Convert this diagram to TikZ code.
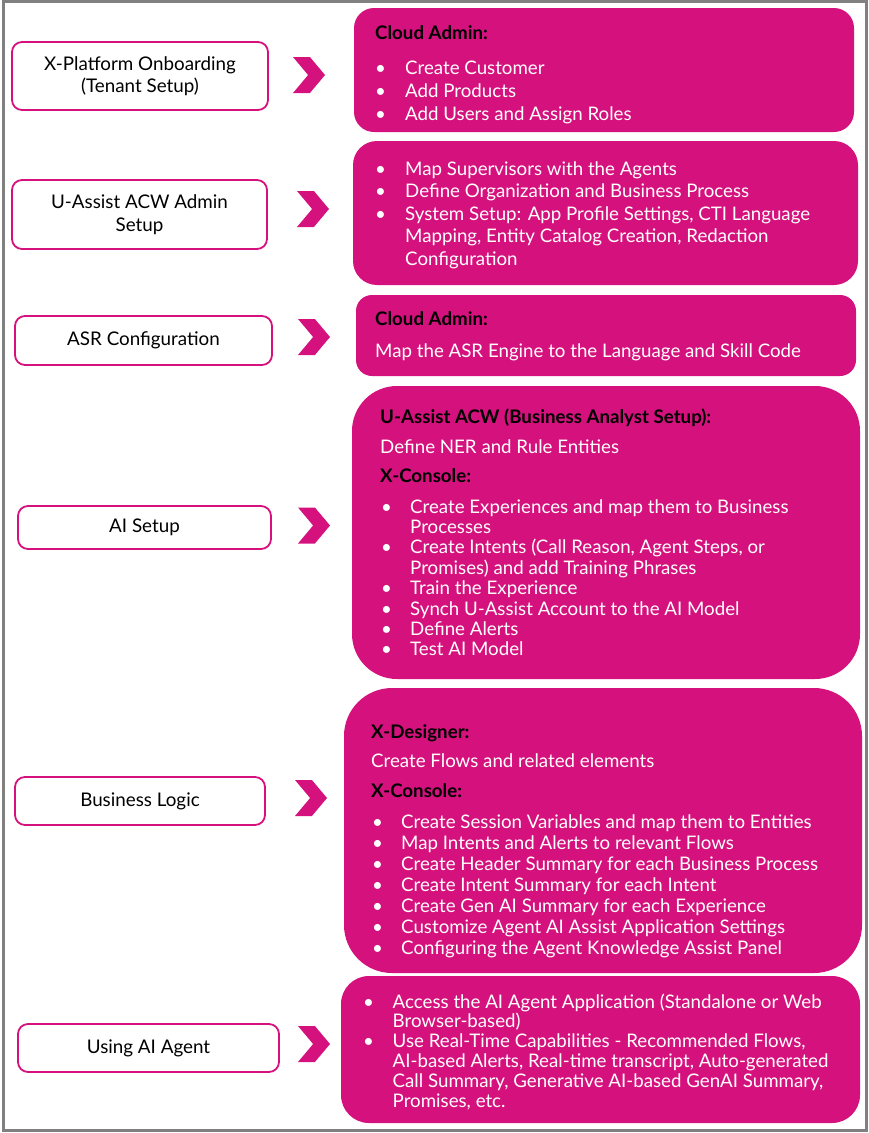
\documentclass[tikz,border=0pt]{standalone}
\usepackage{fontspec}
\setmainfont{Lato}
\usetikzlibrary{shapes.symbols}
\definecolor{mag}{RGB}{213,17,125}
\definecolor{framegray}{RGB}{128,128,128}
\newcommand{\blt}[2][29pt]{\makebox[#1][l]{\textbullet}#2}
\newcommand{\cnt}[2][29pt]{\hspace*{#1}#2}
\newcommand{\blk}[1]{\parbox[t]{520pt}{\raggedright #1}}
\tikzset{
  leftbox/.style={draw=mag, line width=1.8pt, fill=white, rounded corners=10pt,
    align=center, font=\fontsize{18.8}{22.5}\selectfont, text=black, inner sep=0pt},
  rightbox/.style={fill=mag, draw=none, inner sep=0pt},
  chev/.style={fill=mag, draw=none, signal, signal to=east, signal from=west,
    signal pointer angle=100, minimum width=32pt, minimum height=36pt, inner sep=0pt},
  head/.style={anchor=base west, inner sep=0pt, font=\fontsize{18.7}{23}\selectfont\bfseries, text=black},
  body/.style={anchor=base west, inner sep=0pt, text=white},
}
\begin{document}
\begin{tikzpicture}[x=1pt,y=-1pt]
\useasboundingbox (0,0) rectangle (869,1133);
\draw[framegray, line width=3pt] (3.5,1.5) rectangle (866.5,1130);

% left boxes
\node[leftbox, minimum width=256pt, minimum height=68pt] (L1) at (140,76) {X-Platform Onboarding\\(Tenant Setup)};
\node[leftbox, minimum width=255pt, minimum height=69pt] (L2) at (139.5,214.5) {U-Assist ACW Admin\\Setup};
\node[leftbox, minimum width=257pt, minimum height=49pt] (L3) at (143.5,340.5) {ASR Configuration};
\node[leftbox, minimum width=253pt, minimum height=43pt] (L4) at (144.5,527.5) {AI Setup};
\node[leftbox, minimum width=250pt, minimum height=48pt] (L5) at (140,801) {Business Logic};
\node[leftbox, minimum width=261pt, minimum height=48pt] (L6) at (148.5,1048) {Using AI Agent};

% chevrons
\node[chev] (C1) at (309,75) {};
\node[chev] (C2) at (313,209) {};
\node[chev] (C3) at (314,337) {};
\node[chev] (C4) at (314,525.5) {};
\node[chev] (C5) at (311,798) {};
\node[chev] (C6) at (314,1044) {};

% right boxes
\node[rightbox, rounded corners=20pt, minimum width=500pt, minimum height=124pt] (R1) at (604,70) {};
\node[rightbox, rounded corners=24pt, minimum width=505pt, minimum height=144pt] (R2) at (605.5,213) {};
\node[rightbox, rounded corners=16pt, minimum width=500pt, minimum height=81pt] (R3) at (606,335.5) {};
\node[rightbox, rounded corners=45pt, minimum width=508pt, minimum height=293pt] (R4) at (606,532.5) {};
\node[rightbox, rounded corners=48pt, minimum width=518pt, minimum height=285pt] (R5) at (603,830.5) {};
\node[rightbox, rounded corners=28pt, minimum width=519pt, minimum height=147pt] (R6) at (600.5,1049.5) {};

% box 1
\node[head] (h1) at (375,39) {Cloud Admin:};
\node[body, font=\fontsize{18.7}{23}\selectfont] (b1) at (375,74) {\blk{%
\blt[30pt]{Create Customer}\\
\blt[30pt]{Add Products}\\
\blt[30pt]{Add Users and Assign Roles}}};

% box 2
\node[body, font=\fontsize{18.7}{22.6}\selectfont] (b2) at (375,175) {\blk{%
\blt[30pt]{Map Supervisors with the Agents}\\
\blt[30pt]{Define Organization and Business Process}\\
\blt[30pt]{System Setup: App Profile Settings, CTI Language}\\
\cnt[30pt]{Mapping, Entity Catalog Creation, Redaction}\\
\cnt[30pt]{Configuration}}};

% box 3
\node[head] (h3) at (375,325) {Cloud Admin:};
\node[body, font=\fontsize{18.7}{23}\selectfont] (b3) at (375,357) {Map the ASR Engine to the Language and Skill Code};

% box 4
\node[head] (h4a) at (380,423) {U-Assist ACW (Business Analyst Setup):};
\node[body, font=\fontsize{18.7}{23}\selectfont] (b4a) at (380,453) {Define NER and Rule Entities};
\node[head] (h4b) at (380,482) {X-Console:};
\node[body, font=\fontsize{18.7}{20.4}\selectfont] (b4b) at (381,513) {\blk{%
\blt{Create Experiences and map them to Business}\\
\cnt{Processes}\\
\blt{Create Intents (Call Reason, Agent Steps, or}\\
\cnt{Promises) and add Training Phrases}\\
\blt{Train the Experience}\\
\blt{Synch U-Assist Account to the AI Model}\\
\blt{Define Alerts}\\
\blt{Test AI Model}}};

% box 5
\node[head] (h5a) at (371,738) {X-Designer:};
\node[body, font=\fontsize{18.7}{23}\selectfont] (b5a) at (371,767) {Create Flows and related elements};
\node[head] (h5b) at (371,797) {X-Console:};
\node[body, font=\fontsize{18.7}{21}\selectfont] (b5b) at (372,828) {\blk{%
\blt{Create Session Variables and map them to Entities}\\
\blt{Map Intents and Alerts to relevant Flows}\\
\blt{Create Header Summary for each Business Process}\\
\blt{Create Intent Summary for each Intent}\\
\blt{Create Gen AI Summary for each Experience}\\
\blt{Customize Agent AI Assist Application Settings}\\
\blt{Configuring the Agent Knowledge Assist Panel}}};

% box 6
\node[body, font=\fontsize{18.7}{19.8}\selectfont] (b6) at (363,1008) {\blk{%
\blt[29.5pt]{Access the AI Agent Application (Standalone or Web}\\
\cnt[29.5pt]{Browser-based)}\\
\blt[29.5pt]{Use Real-Time Capabilities - Recommended Flows,}\\
\cnt[29.5pt]{AI-based Alerts, Real-time transcript, Auto-generated}\\
\cnt[29.5pt]{Call Summary, Generative AI-based GenAI Summary,}\\
\cnt[29.5pt]{Promises, etc.}}};
\end{tikzpicture}
\end{document}
